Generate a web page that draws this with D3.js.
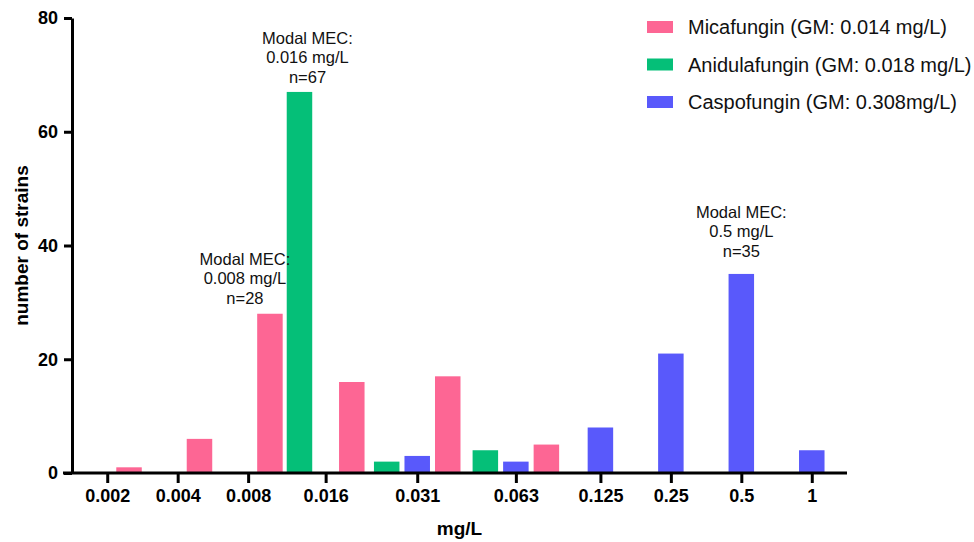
<!DOCTYPE html>
<html>
<head>
<meta charset="utf-8">
<script src="https://cdn.jsdelivr.net/npm/d3@7"></script>
<style>
  body { margin: 0; background: #fff; }
  text { font-family: Arial, "Liberation Sans", sans-serif; }
</style>
</head>
<body>
<div id="chart"></div>
<script>
// setting up constants
const FRAME_WIDTH = 974;
const FRAME_HEIGHT = 542;
const MARGINS = {left: 72, right: 127, top: 18, bottom: 69};
const BAR_WIDTH = 25.5;

// data (number of strains per MEC)
const CATEGORIES = ["0.002", "0.004", "0.008", "0.016", "0.031", "0.063", "0.125", "0.25", "0.5", "1"];
const MICAFUNGIN = [1, 6, 28, 16, 17, 5, 0, 0, 0, 0];
const ANIDULAFUNGIN = [0, 0, 0, 67, 2, 4, 0, 0, 0, 0];
const CASPOFUNGIN = [0, 0, 0, 0, 3, 2, 8, 21, 35, 4];
const SERIES_NAMES = ["Micafungin (GM: 0.014 mg/L)", "Anidulafungin (GM: 0.018 mg/L)", "Caspofungin (GM: 0.308mg/L)"];
const Y_TICKS = [0, 20, 40, 60, 80];

// annotations above the modal bars
const ANNOTATIONS = [
  {cat: "0.008", series: 0, lines: ["Modal MEC:", "0.008 mg/L", "n=28"]},
  {cat: "0.016", series: 1, lines: ["Modal MEC:", "0.016 mg/L", "n=67"]},
  {cat: "0.5", series: 2, lines: ["Modal MEC:", "0.5 mg/L", "n=35"]}
];
// nudges so labels sit like in the figure
const ANNOT_NUDGE = {"0.008": [-25, -10], "0.016": [8, -9], "0.5": [0, -17]};

const COLORS = ["#fd6694", "#05bf78", "#5959fb"];
// order of bars inside a group (anidula, caspo, mica)
const GROUP_ORDER = [1, 2, 0];

const SERIES = [MICAFUNGIN, ANIDULAFUNGIN, CASPOFUNGIN];

const svg = d3.select("#chart")
  .append("svg")
  .attr("width", FRAME_WIDTH)
  .attr("height", FRAME_HEIGHT);

// each category gets a base width plus a bit per bar it holds
const widths = CATEGORIES.map((c, i) => 4 + SERIES.filter(s => s[i] > 0).length);
const starts = [];
widths.reduce((acc, w) => { starts.push(acc); return acc + w; }, 0);
const total = d3.sum(widths);

const xUnits = d3.scaleLinear()
  .domain([0, total])
  .range([MARGINS.left, FRAME_WIDTH - MARGINS.right]);

const centers = CATEGORIES.map((c, i) => xUnits(starts[i] + widths[i] / 2));
const xScale = d3.scaleOrdinal().domain(CATEGORIES).range(centers);

// one sub-band per category, over the three drugs
const xSubs = CATEGORIES.map((c, i) => d3.scaleBand()
  .domain(GROUP_ORDER)
  .range([xUnits(starts[i]), xUnits(starts[i] + widths[i])])
  .paddingOuter(0.116));

function barCenter(ci, s) {
  const sc = xSubs[ci];
  return sc(s) + sc.bandwidth() / 2;
}

const yScale = d3.scaleLinear()
  .domain([0, 80])
  .range([FRAME_HEIGHT - MARGINS.bottom, MARGINS.top]);

// flatten to bars
const bars = [];
SERIES.forEach((s, si) => {
  s.forEach((v, ci) => {
    if (v > 0) bars.push({ci: ci, series: si, value: v});
  });
});

svg.append("g")
  .selectAll("rect")
  .data(bars)
  .enter()
  .append("rect")
  .attr("x", d => barCenter(d.ci, d.series) - BAR_WIDTH / 2)
  .attr("y", d => yScale(d.value))
  .attr("width", BAR_WIDTH)
  .attr("height", d => yScale(0) - yScale(d.value))
  .attr("fill", d => COLORS[d.series]);

// y axis
const yAxis = svg.append("g")
  .attr("transform", "translate(" + MARGINS.left + ",0)")
  .call(d3.axisLeft(yScale).tickValues(Y_TICKS).tickSize(8).tickSizeOuter(0).tickPadding(6));
yAxis.select(".domain").attr("stroke-width", 3);
yAxis.selectAll(".tick line").attr("stroke-width", 3);
yAxis.selectAll("text")
  .attr("font-size", 18)
  .attr("font-weight", "bold")
  .attr("fill", "#000");

// x axis
const xAxis = svg.append("g")
  .attr("transform", "translate(0," + yScale(0) + ")")
  .call(d3.axisBottom(xScale).tickSize(10).tickPadding(6));
xAxis.select(".domain").remove();
xAxis.selectAll(".tick line").attr("stroke-width", 3);
xAxis.selectAll("text")
  .attr("font-size", 18)
  .attr("font-weight", "bold")
  .attr("fill", "#000");
xAxis.append("line")
  .attr("x1", MARGINS.left - 9)
  .attr("x2", FRAME_WIDTH - MARGINS.right)
  .attr("stroke", "#000")
  .attr("stroke-width", 3);

// axis titles
svg.append("text")
  .attr("x", (MARGINS.left + FRAME_WIDTH - MARGINS.right) / 2)
  .attr("y", 535)
  .attr("text-anchor", "middle")
  .attr("font-size", 19)
  .attr("font-weight", "bold")
  .text("mg/L");

svg.append("text")
  .attr("transform", "translate(28," + ((yScale(0) + yScale(80)) / 2) + ") rotate(-90)")
  .attr("text-anchor", "middle")
  .attr("font-size", 19)
  .attr("font-weight", "bold")
  .text("number of strains");

// annotations
ANNOTATIONS.forEach(a => {
  const ci = CATEGORIES.indexOf(a.cat);
  const nudge = ANNOT_NUDGE[a.cat];
  const cx = barCenter(ci, a.series) + nudge[0];
  const base = yScale(SERIES[a.series][ci]) + nudge[1];
  const t = svg.append("text")
    .attr("text-anchor", "middle")
    .attr("font-size", 16.5)
    .attr("fill", "#111");
  a.lines.forEach((line, li) => {
    t.append("tspan")
      .attr("x", cx)
      .attr("y", base - (a.lines.length - 1 - li) * 19.5)
      .text(line);
  });
});

// legend
const legend = svg.append("g").attr("transform", "translate(647,27)");
SERIES_NAMES.forEach((name, i) => {
  const row = legend.append("g").attr("transform", "translate(0," + i * 37.5 + ")");
  row.append("rect")
    .attr("x", 0).attr("y", -6)
    .attr("width", 26).attr("height", 12)
    .attr("fill", COLORS[i]);
  row.append("text")
    .attr("x", 41).attr("y", 7)
    .attr("font-size", 20)
    .attr("fill", "#111")
    .text(name);
});
</script>
</body>
</html>
